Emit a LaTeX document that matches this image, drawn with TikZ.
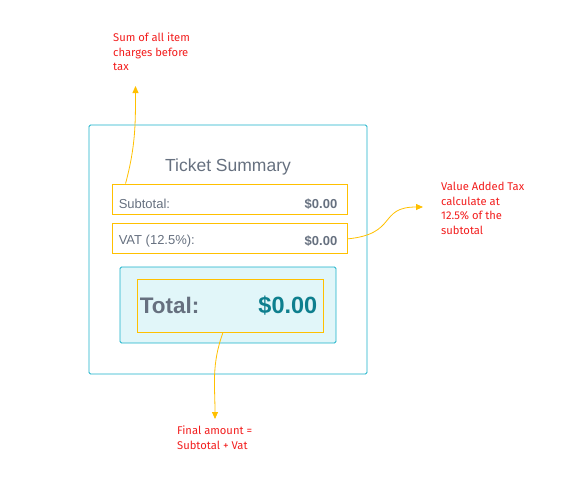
\documentclass[tikz,border=0pt]{standalone}
\usepackage{fontspec}
\setmainfont{Liberation Sans}
\newfontfamily\notefont{Fira Sans}
\usepackage{tikz}
\usetikzlibrary{positioning,arrows.meta}

\definecolor{teal}{HTML}{17B1C9}
\definecolor{gold}{HTML}{FFC000}
\definecolor{slate}{HTML}{66707F}
\definecolor{panel}{HTML}{E1F6F9}
\definecolor{money}{HTML}{0E7F8E}
\definecolor{notered}{HTML}{F21D1D}

\begin{document}
\begin{tikzpicture}[x=1pt,y=-1pt,node distance=9pt,
  card/.style={draw=teal,line width=0.9pt,rounded corners=1.5pt,minimum width=278pt,minimum height=249pt},
  row/.style={draw=gold,line width=0.9pt,minimum width=235pt,minimum height=30pt},
  rowtext/.style={text=slate,inner sep=7pt,yshift=-5pt,font=\fontsize{13}{15}\selectfont},
  note/.style={text=notered,align=left,inner sep=0pt,anchor=north west,font=\notefont\fontsize{11.2}{14.5}\selectfont},
  pointer/.style={draw=gold,line width=0.8pt,-{Triangle[length=7pt,width=6pt]}}]
  \useasboundingbox (0,0) rectangle (563,493);

  \node[card] (summary) at (228,249.5) {};
  \node[text=slate,font=\fontsize{17.5}{20}\selectfont] (title) at (228,166.5) {Ticket Summary};

  \node[row] (subtotal) at (229.5,199) {};
  \node[rowtext,anchor=west] (sublabel) at (subtotal.west) {Subtotal:};
  \node[rowtext,anchor=east,inner xsep=10pt,font=\fontsize{13}{15}\selectfont\bfseries] (subvalue) at (subtotal.east) {\$0.00};

  \node[row] (vat) [below=of subtotal] {};
  \node[rowtext,anchor=west,yshift=2.5pt] (vatlabel) at (vat.west) {VAT (12.5\%):};
  \node[rowtext,anchor=east,yshift=2.5pt,inner xsep=10pt,font=\fontsize{13}{15}\selectfont\bfseries] (vatvalue) at (vat.east) {\$0.00};

  \node[draw=teal,fill=panel,line width=0.9pt,rounded corners=1.5pt,minimum width=216pt,minimum height=76pt] (totalpanel) at (228,305) {};
  \node[draw=gold,line width=0.9pt,minimum width=186pt,minimum height=53pt] (totalbox) at (230,305.5) {};
  \node[text=slate,anchor=west,inner sep=3pt,font=\fontsize{22.5}{26}\selectfont\bfseries] (totallabel) at (totalbox.west) {Total:};
  \node[text=money,anchor=east,inner sep=6pt,font=\fontsize{23.5}{26}\selectfont\bfseries] (totalvalue) at (totalbox.east) {\$0.00};

  % notes
  \node[note] (notesum) at (113,33) {Sum of all item\\charges before\\tax};
  \node[note] (notevat) at (441,182) {Value Added Tax\\calculate at\\12.5\% of the\\subtotal};
  \node[note] (notefinal) at (177,426) {Final amount =\\Subtotal + Vat};

  \coordinate (tipsum) at (135.5,86);
  \coordinate (tipvat) at (423,207);
  \coordinate (tipfinal) at (215,419);

  \draw[pointer] ([xshift=14pt]subtotal.north west) to[out=75,in=-90] (tipsum);
  \draw[pointer] (vat.east) .. controls (398,234) and (378,207) .. (tipvat);
  \draw[pointer] ([xshift=-7pt]totalbox.south) to[out=-110,in=90] (tipfinal);
\end{tikzpicture}
\end{document}
